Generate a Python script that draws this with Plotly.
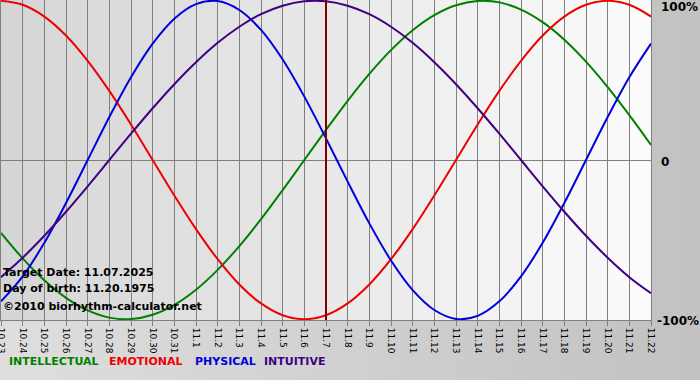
import plotly.graph_objects as go

dates = ["10.23", "10.24", "10.25", "10.26", "10.27", "10.28", "10.29", "10.30", "10.31",
         "11.1", "11.2", "11.3", "11.4", "11.5", "11.6", "11.7", "11.8", "11.9", "11.10",
         "11.11", "11.12", "11.13", "11.14", "11.15", "11.16", "11.17", "11.18", "11.19",
         "11.20", "11.21", "11.22"]

physical = [-0.888, -0.731, -0.520, -0.270, 0.0, 0.270, 0.520, 0.731, 0.888, 0.979, 0.998,
            0.942, 0.817, 0.631, 0.398, 0.136, -0.136, -0.398, -0.631, -0.817, -0.942,
            -0.998, -0.979, -0.888, -0.731, -0.520, -0.270, 0.0, 0.270, 0.520, 0.731]
emotional = [1.0, 0.975, 0.901, 0.782, 0.623, 0.434, 0.223, 0.0, -0.223, -0.434, -0.623,
             -0.782, -0.901, -0.975, -1.0, -0.975, -0.901, -0.782, -0.623, -0.434, -0.223,
             0.0, 0.223, 0.434, 0.623, 0.782, 0.901, 0.975, 1.0, 0.975, 0.901]
intellectual = [-0.458, -0.618, -0.756, -0.866, -0.945, -0.990, -0.999, -0.972, -0.910,
                -0.815, -0.690, -0.541, -0.372, -0.189, 0.0, 0.189, 0.372, 0.541, 0.690,
                0.815, 0.910, 0.972, 0.999, 0.990, 0.945, 0.866, 0.756, 0.618, 0.458,
                0.282, 0.095]
intuitive = [-0.736, -0.614, -0.476, -0.325, -0.165, 0.0, 0.165, 0.325, 0.476, 0.614, 0.736,
             0.837, 0.916, 0.969, 0.997, 0.997, 0.969, 0.916, 0.837, 0.736, 0.614, 0.476,
             0.325, 0.165, 0.0, -0.165, -0.325, -0.476, -0.614, -0.736, -0.837]

target_index = 15
y_ticks = [1, 0, -1]
y_labels = ["100%", "0", "-100%"]

series = [
    ("INTELLECTUAL", intellectual, "#008000"),
    ("EMOTIONAL", emotional, "#ee0000"),
    ("PHYSICAL", physical, "#0000dd"),
    ("INTUITIVE", intuitive, "#400080"),
]

xs = list(range(len(dates)))
fig = go.Figure()
for name, vals, col in series:
    fig.add_trace(go.Scatter(x=xs, y=vals, mode="lines", name=name,
                             line=dict(color=col, width=2, shape="spline", smoothing=1.0),
                             hoverinfo="skip"))


def mix(c1, c2, t):
    return "rgb(%d,%d,%d)" % tuple(round(a + (b - a) * t) for a, b in zip(c1, c2))


shapes = []
W, H = 700.0, 380.0
pl, pr, pt, pb = 1, 49, 0, 60
pw, ph = W - pl - pr, H - pt - pb
nsteps = 40
x0p = -pl / pw
x1p = (W - pl) / pw
for i in range(nsteps):
    a = x0p + (x1p - x0p) * i / nsteps
    b = x0p + (x1p - x0p) * (i + 1) / nsteps + 0.002
    shapes.append(dict(type="rect", xref="paper", yref="paper", x0=a, x1=b,
                       y0=-pb / ph, y1=1 + pt / ph, line=dict(width=0),
                       fillcolor=mix((222, 222, 222), (194, 194, 194), i / (nsteps - 1)),
                       layer="below"))
n = len(dates) - 1
for i in range(n):
    shapes.append(dict(type="rect", xref="x", yref="paper", x0=i, x1=i + 1, y0=0, y1=1,
                       line=dict(width=0),
                       fillcolor=mix((214, 214, 214), (251, 251, 251), i / (n - 1)),
                       layer="below"))
shapes.append(dict(type="line", xref="x", yref="paper", x0=target_index, x1=target_index,
                   y0=0, y1=1, line=dict(color="#800000", width=2), layer="above"))

fig.update_layout(
    width=700, height=380,
    margin=dict(l=pl, r=pr, t=pt, b=pb, autoexpand=False),
    paper_bgcolor="#cccccc",
    plot_bgcolor="rgba(0,0,0,0)",
    showlegend=False,
    shapes=shapes,
    font=dict(family="DejaVu Sans", color="black"),
)
fig.update_xaxes(
    range=[0, n], tickvals=xs, ticktext=dates, tickangle=90,
    tickfont=dict(family="DejaVu Sans", size=9, color="black"),
    ticklabeloverflow="allow", automargin=False,
    showgrid=True, gridcolor="#808080", gridwidth=1,
    ticks="outside", ticklen=5, tickcolor="#808080", tickwidth=1,
    showline=True, linecolor="#808080", linewidth=1, mirror=True,
    zeroline=False, fixedrange=True,
)
fig.update_yaxes(
    range=[-1.005, 1.005], showticklabels=False, automargin=False,
    showgrid=False, zeroline=True, zerolinecolor="#808080", zerolinewidth=1,
    showline=True, linecolor="#808080", linewidth=1, mirror=True,
    ticks="", fixedrange=True,
)

label_px = [7, 162, 321]
label_x = [659, 659, 655]
for val, txt, py, px in zip(y_ticks, y_labels, label_px, label_x):
    fig.add_annotation(x=(px - pl) / pw, xref="paper", xanchor="left",
                       y=1 - py / ph, yref="paper", yanchor="middle",
                       text="<b>%s</b>" % txt, showarrow=False,
                       font=dict(family="DejaVu Sans", size=12, color="black"))

info = ["Target Date: 11.07.2025", "Day of birth: 11.20.1975", "©2010 biorhythm-calculator.net"]
info_y = [272, 288, 306]
for txt, py in zip(info, info_y):
    fig.add_annotation(x=0, xref="paper", xanchor="left",
                       y=1 - py / ph, yref="paper", yanchor="middle",
                       text="<b>%s</b>" % txt, showarrow=False,
                       font=dict(family="DejaVu Sans", size=11, color="black"))

legend_x = [7, 107, 193, 262]
for (nm, _, c), px in zip(series, legend_x):
    fig.add_annotation(x=(px - pl) / pw, xref="paper", xanchor="left",
                       y=1 - 361 / ph, yref="paper", yanchor="middle",
                       text="<b>%s</b>" % nm, showarrow=False,
                       font=dict(family="DejaVu Sans", size=11, color=c))

fig.write_html("out.html")
